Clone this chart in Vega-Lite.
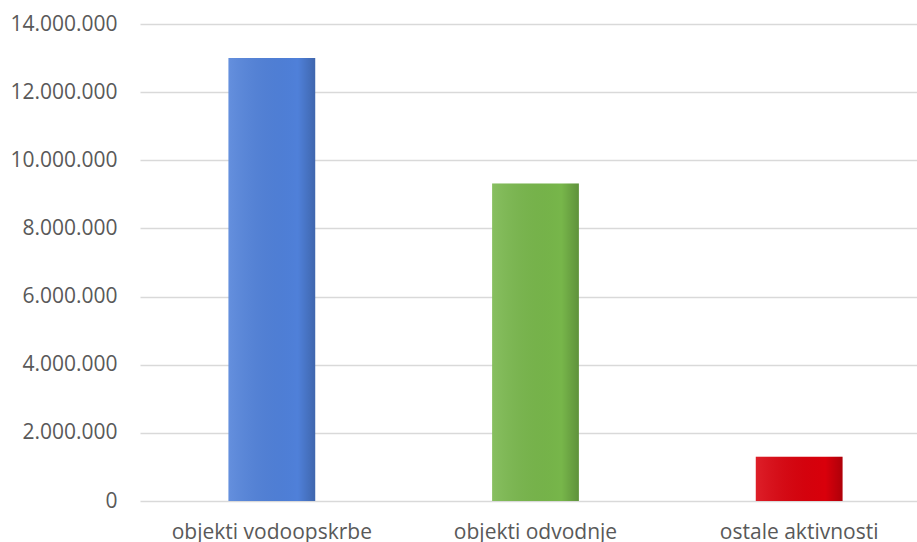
{
  "$schema": "https://vega.github.io/schema/vega-lite/v6.json",
  "width": 777,
  "height": 477,
  "autosize": "none",
  "padding": {"left": 140, "top": 24, "right": 0, "bottom": 41},
  "background": "white",
  "config": {"view": {"stroke": null}},
  "data": {
    "values": [
      {"kategorija": "objekti vodoopskrbe", "iznos": 13000000},
      {"kategorija": "objekti odvodnje", "iznos": 9320000},
      {"kategorija": "ostale aktivnosti", "iznos": 1300000}
    ]
  },
  "encoding": {
    "x": {
      "field": "kategorija",
      "type": "nominal",
      "sort": null,
      "scale": {"range": [0, 791], "paddingInner": 0.671, "paddingOuter": 0.3355},
      "axis": {
        "title": null,
        "domain": false,
        "ticks": false,
        "grid": false,
        "labelAngle": 0,
        "labelLimit": 0,
        "labelFont": "Open Sans",
        "labelFontSize": 21,
        "labelColor": "#595959",
        "labelPadding": 20
      }
    },
    "y": {
      "field": "iznos",
      "type": "quantitative",
      "scale": {"domain": [0, 14000000], "nice": false},
      "axis": {
        "title": null,
        "domain": false,
        "ticks": false,
        "values": [0, 2000000, 4000000, 6000000, 8000000, 10000000, 12000000, 14000000],
        "labelExpr": "replace(format(datum.value, ','), regexp(',', 'g'), '.')",
        "labelFont": "Open Sans",
        "labelFontSize": 21,
        "labelColor": "#595959",
        "labelPadding": 23,
        "gridColor": "#d9d9d9",
        "gridWidth": 1.5
      }
    }
  },
  "layer": [
    {
      "mark": {"type": "bar"},
      "encoding": {
        "color": {
          "field": "kategorija",
          "type": "nominal",
          "scale": {
            "domain": ["objekti vodoopskrbe", "objekti odvodnje", "ostale aktivnosti"],
            "range": ["#4f80d9", "#77b64a", "#d9000b"]
          },
          "legend": null
        }
      }
    },
    {
      "mark": {
        "type": "bar",
        "color": {
          "gradient": "linear",
          "x1": 0, "x2": 1, "y1": 0, "y2": 0,
          "stops": [
            {"offset": 0, "color": "rgba(255,255,255,0.12)"},
            {"offset": 0.8, "color": "rgba(0,0,0,0)"},
            {"offset": 1, "color": "rgba(0,0,0,0.2)"}
          ]
        }
      }
    }
  ]
}
